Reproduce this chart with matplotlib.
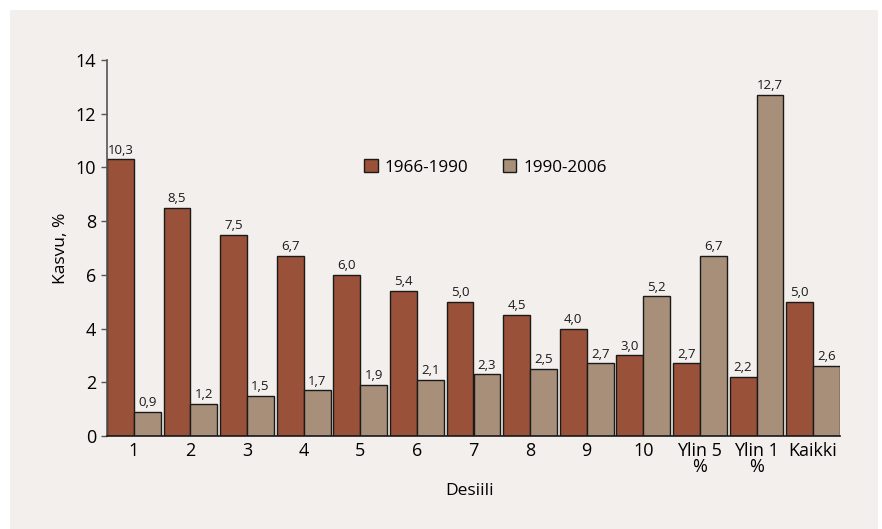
import matplotlib.pyplot as plt
from matplotlib.patches import Rectangle
import numpy as np

plt.rcParams['font.family'] = ['Open Sans', 'DejaVu Sans']

categories = ["1", "2", "3", "4", "5", "6", "7", "8", "9", "10", "Ylin 5\n%", "Ylin 1\n%", "Kaikki"]
growth_1966_1990 = [10.3, 8.5, 7.5, 6.7, 6.0, 5.4, 5.0, 4.5, 4.0, 3.0, 2.7, 2.2, 5.0]
growth_1990_2006 = [0.9, 1.2, 1.5, 1.7, 1.9, 2.1, 2.3, 2.5, 2.7, 5.2, 6.7, 12.7, 2.6]

red = '#9a5139'
tan = '#a88f7a'
bg = '#f2efec'

fig = plt.figure(figsize=(8.82, 5.29), dpi=100)
fig.patch.set_facecolor('white')
# light panel behind the chart
fig.patches.append(Rectangle((10 / 882, 0), 868 / 882, 1 - 10 / 529,
                             transform=fig.transFigure, facecolor=bg,
                             edgecolor='none', zorder=-10))

ax = fig.add_axes([107 / 882, 1 - 436 / 529, (840 - 107) / 882, (436 - 60) / 529])
ax.set_facecolor('none')

x = np.arange(len(categories))
w = 0.475
b1 = ax.bar(x - w / 2, growth_1966_1990, w, color=red, edgecolor='#1a1a1a', linewidth=1, label='1966-1990')
b2 = ax.bar(x + w / 2, growth_1990_2006, w, color=tan, edgecolor='#1a1a1a', linewidth=1, label='1990-2006')

for bars in (b1, b2):
    for r in bars:
        h = r.get_height()
        ax.text(r.get_x() + r.get_width() / 2, h + 0.1, f"{h:.1f}".replace('.', ','),
                ha='center', va='bottom', fontsize=9.5, color='#1a1a1a')

ax.set_xlim(-w, len(categories) - 1 + w)
ax.set_ylim(0, 14)
ax.set_yticks(range(0, 15, 2))
ax.set_xticks(x)
ax.set_xticklabels(categories, fontsize=13, linespacing=0.9)
ax.tick_params(axis='x', length=0, pad=4)
ax.tick_params(axis='y', labelsize=13, length=4, width=1, color='#555555', pad=4)

for s in ('top', 'right'):
    ax.spines[s].set_visible(False)
ax.spines['left'].set_color('#555555')
ax.spines['left'].set_linewidth(1.2)
ax.spines['bottom'].set_color('#1a1a1a')
ax.spines['bottom'].set_linewidth(1.2)

ax.set_ylabel('Kasvu, %', fontsize=12.5)
ax.yaxis.set_label_coords((69 - 107) / 733, 0.5)
ax.set_xlabel('Desiili', fontsize=12.5)
ax.xaxis.set_label_coords((470 - 107) / 733, -(483 - 436) / 376)

ax.legend(loc='upper left', bbox_to_anchor=(0.33, 0.777), ncol=2, frameon=False,
          fontsize=12.3, handlelength=0.8, handleheight=0.8, handletextpad=0.4,
          columnspacing=2.0)

fig.savefig('out.png', dpi=100, facecolor=fig.get_facecolor())
